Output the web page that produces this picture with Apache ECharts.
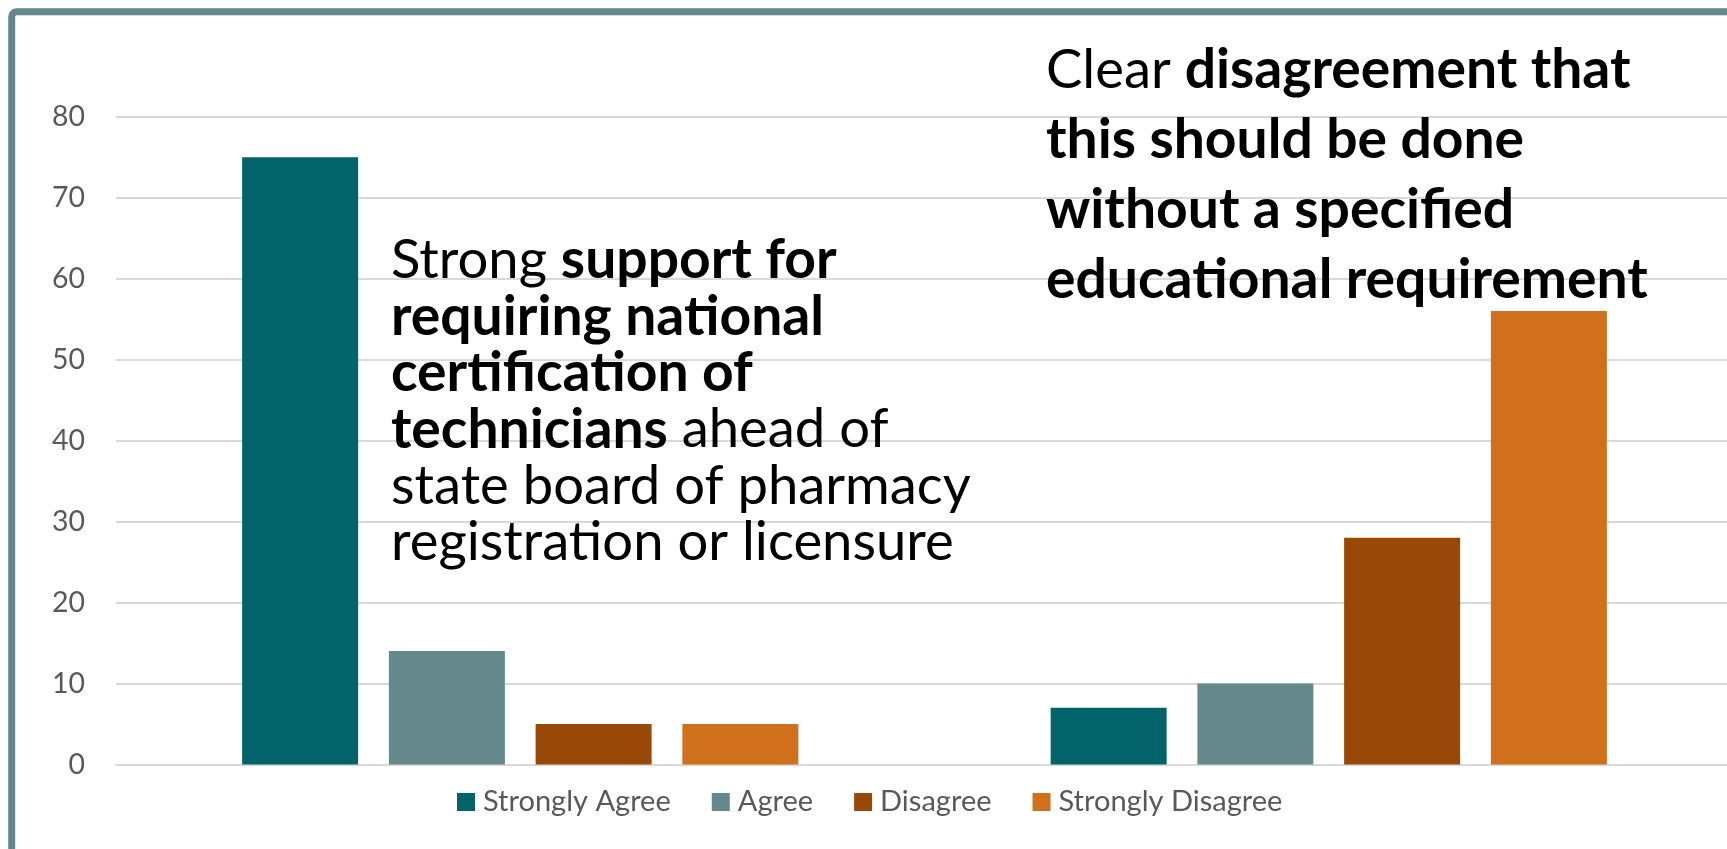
<!DOCTYPE html>
<html>
<head>
<meta charset="utf-8">
<script src="https://cdn.jsdelivr.net/npm/echarts@6.0.0/dist/echarts.min.js"></script>
<style>
  html, body { margin: 0; padding: 0; background: #ffffff; }
  #chart { width: 1727px; height: 849px; }
</style>
</head>
<body>
<div id="chart"></div>
<script>
// ---- data ----
const categories = ['National certification ahead of state board registration/licensure', 'Registration without a specified educational requirement'];
const seriesNames = ['Strongly Agree', 'Agree', 'Disagree', 'Strongly Disagree'];
const strongAgree = [75, 7];
const agree = [14, 10];
const disagree = [5, 28];
const strongDisagree = [5, 56];
const yMin = 0, yMax = 80, yInterval = 10;

const leftNote = [
  [['n', 'Strong '], ['b', 'support for']],
  [['b', 'requiring national']],
  [['b', 'certification of']],
  [['b', 'technicians'], ['n', ' ahead of']],
  [['n', 'state board of pharmacy']],
  [['n', 'registration or licensure']]
];
const rightNote = [
  [['n', 'Clear '], ['b', 'disagreement that']],
  [['b', 'this should be done']],
  [['b', 'without a specified']],
  [['b', 'educational requirement']]
];

// ---- styling ----
const seriesColors = ['#02646a', '#65888c', '#984807', '#d06f1c'];
const FONT = 'Lato';
const ctx = document.createElement('canvas').getContext('2d');
function fit(text, weight, target) {
  ctx.font = weight + ' 100px ' + FONT;
  return 100 * target / ctx.measureText(text).width;
}
const noteReg = fit('state board of pharmacy', 'normal', 580);
const noteBold = fit('educational requirement', 'bold', 602);
const legendSize = fit('Strongly Disagree', 'normal', 224);
const axisSize = fit('80', 'normal', 33);

function richText(lines) {
  return lines.map(l => l.map(([k, t]) => '{' + k + '|' + t + '}').join('')).join('\n');
}
function richStyles(lh) {
  return {
    n: { fontFamily: FONT, fontSize: noteReg, fontWeight: 'normal', lineHeight: lh, fill: '#000000' },
    b: { fontFamily: FONT, fontSize: noteBold, fontWeight: 'bold', lineHeight: lh, fill: '#000000' }
  };
}
const F = Math.max(noteReg, noteBold);
const leftLH = 56.5, rightLH = 70;
const leftTop = 278 - leftLH / 2 - 0.3225 * F;
const rightTop = 88 - rightLH / 2 - 0.3225 * F;

const seriesData = [strongAgree, agree, disagree, strongDisagree];

const chart = echarts.init(document.getElementById('chart'), null, { renderer: 'canvas' });
chart.setOption({
  backgroundColor: '#ffffff',
  animation: false,
  grid: { left: 116, top: 116.7, width: 1617, height: 647.7, containLabel: false, outerBoundsMode: 'none' },
  legend: {
    left: 457,
    top: 787,
    padding: 0,
    itemWidth: 18,
    itemHeight: 18,
    itemGap: 41,
    icon: 'rect',
    data: seriesNames,
    textStyle: { fontFamily: FONT, fontSize: legendSize, color: '#595959', lineHeight: 30, padding: [0, 0, 0, 3] }
  },
  xAxis: {
    type: 'category',
    data: categories,
    axisLine: { show: true, lineStyle: { color: '#d9d9d9', width: 2 } },
    axisTick: { show: false },
    axisLabel: { show: false }
  },
  yAxis: {
    type: 'value',
    min: yMin,
    max: yMax,
    interval: yInterval,
    axisLine: { show: false },
    axisTick: { show: false },
    axisLabel: { fontFamily: FONT, fontSize: axisSize, color: '#595959', margin: 31 },
    splitLine: { lineStyle: { color: '#d9d9d9', width: 2 } }
  },
  series: seriesNames.map((name, i) => ({
    name: name,
    type: 'bar',
    data: seriesData[i],
    barWidth: 116,
    barGap: '26.5%',
    itemStyle: { color: seriesColors[i] }
  })),
  graphic: [
    {
      type: 'rect',
      shape: { x: 11.7, y: 11.8, width: 2000, height: 1200, r: 5 },
      style: { fill: 'none', stroke: '#64888c', lineWidth: 7 },
      z: 100
    },
    {
      type: 'text',
      x: 391,
      y: leftTop,
      style: { text: richText(leftNote), rich: richStyles(leftLH), align: 'left', verticalAlign: 'top' },
      z: 50
    },
    {
      type: 'text',
      x: 1046,
      y: rightTop,
      style: { text: richText(rightNote), rich: richStyles(rightLH), align: 'left', verticalAlign: 'top' },
      z: 50
    }
  ]
});
</script>
</body>
</html>
